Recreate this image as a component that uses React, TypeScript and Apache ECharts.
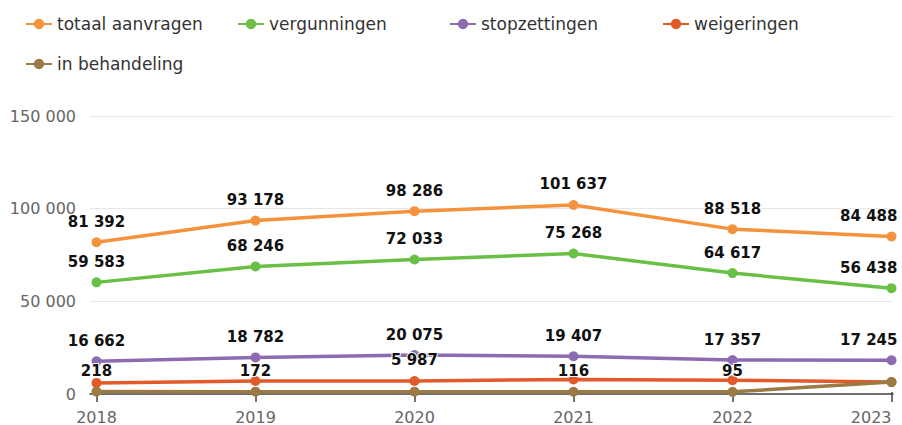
import React, { useEffect, useRef } from "react";
import * as echarts from "echarts";

const years = ["2018", "2019", "2020", "2021", "2022", "2023"];
const totaalAanvragen = [81392, 93178, 98286, 101637, 88518, 84488];
const vergunningen = [59583, 68246, 72033, 75268, 64617, 56438];
const stopzettingen = [16662, 18782, 20075, 19407, 17357, 17245];
const weigeringen = [4929, 5978, 5987, 6846, 6449, 5400];
const inBehandeling = [218, 172, 191, 116, 95, 5405];
// which data labels are visible (overlapping labels are hidden in the reference)
const weigeringenLabels = [false, false, true, false, false, false];
const inBehandelingLabels = [true, true, false, true, true, false];
const yTicks = [0, 50000, 100000, 150000];

const seriesNames = ["totaal aanvragen", "vergunningen", "stopzettingen", "weigeringen", "in behandeling"];
const seriesColors = ["#f5923e", "#6abf45", "#8c6bb1", "#e25a2a", "#9c7a44"];

const fmt = (v: number) => String(v).replace(/\B(?=(\d{3})+(?!\d))/g, " ");

export default function App() {
  const ref = useRef<HTMLDivElement>(null);
  useEffect(() => {
    if (!ref.current) return;
    const chart = echarts.init(ref.current, null, { renderer: "svg" });
    const allData = [totaalAanvragen, vergunningen, stopzettingen, weigeringen, inBehandeling];
    const labelFlags = [null, null, null, weigeringenLabels, inBehandelingLabels];
    const last = years.length - 1;
    const yMin = yTicks[0];
    const yMax = yTicks[yTicks.length - 1];
    const yInterval = yTicks[1] - yTicks[0];
    const series = allData.map((vals, si) => ({
      type: "line",
      name: seriesNames[si],
      xAxisIndex: 0,
      yAxisIndex: 0,
      color: seriesColors[si],
      symbol: "circle",
      symbolSize: 10,
      lineStyle: { width: 3.5, color: seriesColors[si] },
      itemStyle: { color: seriesColors[si] },
      label: {
        show: true,
        position: "top",
        distance: 8,
        fontFamily: "DejaVu Sans",
        fontSize: 15,
        fontWeight: "bold",
        color: "#111",
        textBorderColor: "#fff",
        textBorderWidth: 2,
        formatter: (p: any) => fmt(p.value),
      },
      data: vals.map((v, i) => ({
        value: v,
        label: {
          show: labelFlags[si] ? (labelFlags[si] as boolean[])[i] : true,
          ...(i === last ? { align: "right", offset: [6, 0] } : {}),
        },
      })),
    }));
    const legendPos = [
      { left: 20, top: 10 },
      { left: 232, top: 10 },
      { left: 444, top: 10 },
      { left: 657, top: 10 },
      { left: 20, top: 50 },
    ];
    const legends = seriesNames.map((n, i) => ({
      data: [n],
      left: legendPos[i].left,
      top: legendPos[i].top,
      itemWidth: 26,
      itemHeight: 13,
      itemGap: 0,
      selectedMode: false,
      textStyle: { fontFamily: "DejaVu Sans", fontSize: 17, color: "#333", lineHeight: 18 },
    }));
    chart.setOption({
      animation: false,
      legend: legends,
      grid: [
        { left: 96.5, right: 10.5, top: 116, bottom: 31, containLabel: false },
        { left: 90, right: 9, top: 116, bottom: 31, containLabel: false },
      ],
      xAxis: [
        {
          type: "category",
          gridIndex: 0,
          data: years,
          boundaryGap: false,
          axisLine: { show: false },
          axisTick: { show: true, length: 10, alignWithLabel: true, lineStyle: { color: "#444", width: 1.5 } },
          axisLabel: {
            fontFamily: "DejaVu Sans",
            fontSize: 16,
            color: "#666",
            margin: 17,
            alignMaxLabel: "right",
          },
          splitLine: { show: false },
        },
        {
          type: "value",
          gridIndex: 1,
          min: 0,
          max: 1,
          axisLine: { show: true, lineStyle: { color: "#444", width: 1.5 } },
          axisTick: { show: false },
          axisLabel: { show: false },
          splitLine: { show: false },
        },
      ],
      yAxis: [
        {
          type: "value",
          gridIndex: 0,
          min: yMin,
          max: yMax,
          interval: yInterval,
          axisLine: { show: false },
          axisTick: { show: false },
          axisLabel: { show: false },
          splitLine: { show: false },
        },
        {
          type: "value",
          gridIndex: 1,
          min: yMin,
          max: yMax,
          interval: yInterval,
          axisLine: { show: false },
          axisTick: { show: false },
          axisLabel: {
            fontFamily: "DejaVu Sans",
            fontSize: 16,
            color: "#666",
            margin: 14,
            formatter: (v: number) => fmt(v),
          },
          splitLine: { lineStyle: { color: "#e6e6e6", width: 1 } },
        },
      ],
      series,
    });
    return () => chart.dispose();
  }, []);
  return <div ref={ref} style={{ width: 902, height: 425, position: "absolute", left: 0, top: 0 }} />;
}
